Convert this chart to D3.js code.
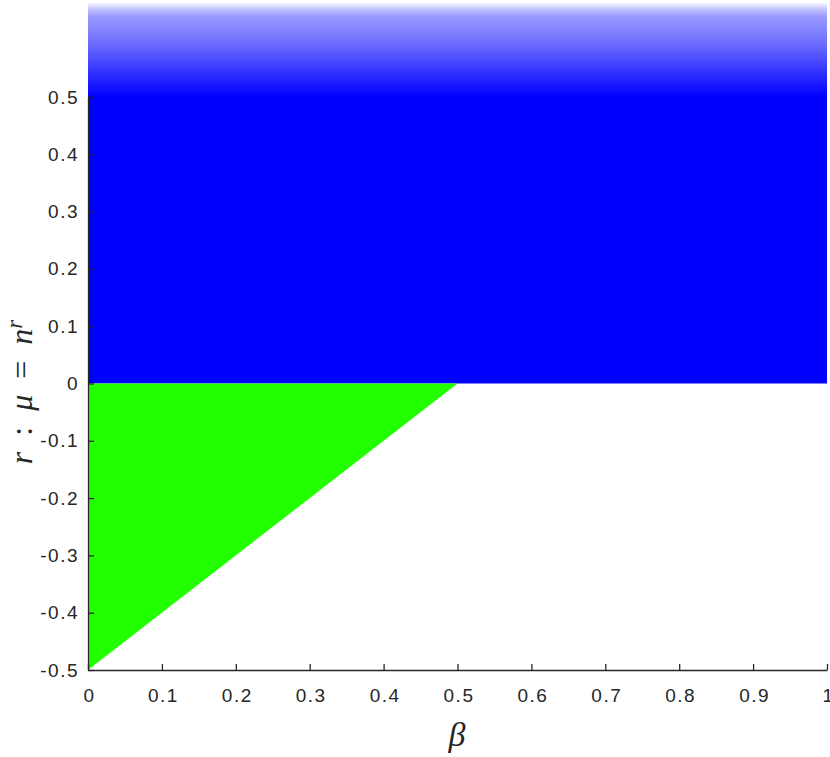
<!DOCTYPE html>
<html><head><meta charset="utf-8">
<script src="https://cdn.jsdelivr.net/npm/d3@7"></script>
<style>body{margin:0;background:#fff}</style>
</head><body>
<svg id="c" width="830" height="757"></svg>
<script>
const xTicks = [0,0.1,0.2,0.3,0.4,0.5,0.6,0.7,0.8,0.9,1];
const yTicks = [-0.5,-0.4,-0.3,-0.2,-0.1,0,0.1,0.2,0.3,0.4,0.5];
const xLabels = ["0","0.1","0.2","0.3","0.4","0.5","0.6","0.7","0.8","0.9","1"];
const yLabels = ["-0.5","-0.4","-0.3","-0.2","-0.1","0","0.1","0.2","0.3","0.4","0.5"];
// blue region: beta in [0,1], r in [0, 0.5] solid, fading above up to rTop
const blueRegion = [[0,0],[1,0],[1,0.5],[0,0.5]];
const fadeRegion = [[0,0.5],[1,0.5],[1,0.664],[0,0.664]];
// green region: triangle
const greenRegion = [[0,0],[0.5,0],[0,-0.5]];

const svg = d3.select("#c");
const x = d3.scaleLinear().domain([0,1]).range([88,827]);
const y = d3.scaleLinear().domain([-0.5,0.5]).range([670,97]);

const defs = svg.append("defs");
const g = defs.append("linearGradient").attr("id","fade")
  .attr("x1",0).attr("y1",1).attr("x2",0).attr("y2",0);
[[0,1],[0.3,0.78],[0.6,0.55],[0.85,0.4],[0.93,0.25],[1,0.03]].forEach(([o,a])=>{
  g.append("stop").attr("offset",o).attr("stop-color","#0000ff").attr("stop-opacity",a);
});

const line = d3.line().x(d=>x(d[0])).y(d=>y(d[1]));
svg.append("path").attr("d",line(fadeRegion)+"Z").attr("fill","url(#fade)");
svg.append("path").attr("d",line(blueRegion)+"Z").attr("fill","#0000ff");
svg.append("path").attr("d",line(greenRegion)+"Z").attr("fill","#22ff00");

const font = "'Liberation Sans', Arial, sans-serif";
const xAxis = d3.axisBottom(x).tickValues(xTicks).tickFormat((d,i)=>xLabels[i]).tickSizeInner(-6).tickSizeOuter(0).tickPadding(19);
const yAxis = d3.axisLeft(y).tickValues(yTicks).tickFormat((d,i)=>yLabels[i]).tickSizeInner(-6).tickSizeOuter(0).tickPadding(9);
const gx = svg.append("g").attr("transform","translate(0,670)").call(xAxis);
const gy = svg.append("g").attr("transform","translate(88,0)").call(yAxis);
[gx,gy].forEach(a=>{
  a.select(".domain").attr("stroke","#262626").attr("stroke-width",1.3);
  a.selectAll(".tick line").attr("stroke","#262626").attr("stroke-width",1.3);
  a.selectAll(".tick text").attr("fill","#262626").style("font-family",font)
    .style("font-size","19px").style("letter-spacing","1.5px");
});
gx.selectAll(".tick text").attr("dy","0.71em").attr("dx","1");

svg.append("text").attr("x",457).attr("y",746).attr("text-anchor","middle")
  .style("font-family","'Liberation Serif', 'DejaVu Serif', serif").style("font-style","italic")
  .style("font-size","34px").attr("fill","#262626").text("β");

const yl = svg.append("text").attr("transform","translate(32,392) rotate(-90)").attr("text-anchor","middle")
  .style("font-family","'Liberation Serif', 'DejaVu Serif', serif").style("font-size","32px").attr("fill","#262626")
  .attr("xml:space","preserve").style("white-space","pre");
yl.append("tspan").style("font-style","italic").text("r");
yl.append("tspan").text("  :  ");
yl.append("tspan").style("font-style","italic").text("μ");
yl.append("tspan").text("  =  ");
yl.append("tspan").style("font-style","italic").text("n");
yl.append("tspan").style("font-style","italic").style("font-size","23px").attr("dy","-10").text("r");
</script>
</body></html>
